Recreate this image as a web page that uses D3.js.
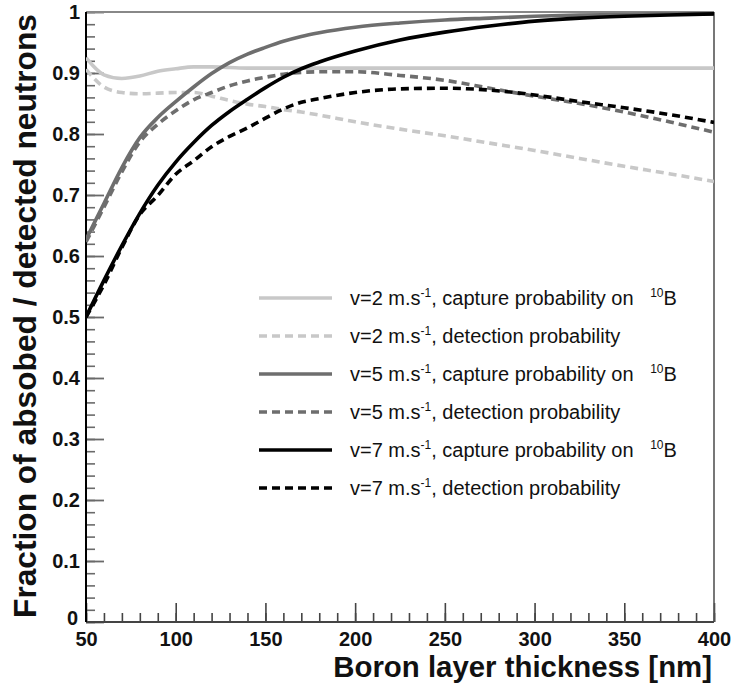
<!DOCTYPE html>
<html><head><meta charset="utf-8">
<script src="https://cdn.jsdelivr.net/npm/d3@7"></script>
<style>
html,body{margin:0;padding:0;background:#fff;}
svg{display:block;}
text{font-family:"Liberation Sans",Arial,Helvetica,sans-serif;}
</style></head>
<body>
<svg id="chart" width="732" height="688"></svg>
<script>
// ---- data ----
const thickness = [50,60,70,80,90,100,110,120,130,140,150,160,170,180,200,225,250,275,300,325,350,375,400];
const v2Capture   = [0.925,0.897,0.891,0.895,0.903,0.907,0.910,0.910,0.909,0.908,0.908,0.908,0.908,0.908,0.908,0.908,0.908,0.908,0.908,0.908,0.908,0.908,0.908];
const v2Detection = [0.906,0.877,0.868,0.866,0.867,0.868,0.868,0.862,0.855,0.849,0.845,0.840,0.836,0.831,0.820,0.808,0.797,0.785,0.773,0.760,0.747,0.735,0.722];
const v5Capture   = [0.627,0.686,0.745,0.794,0.827,0.853,0.877,0.899,0.917,0.931,0.942,0.952,0.960,0.966,0.975,0.982,0.987,0.990,0.993,0.995,0.996,0.997,0.997];
const v5Detection = [0.623,0.680,0.738,0.787,0.816,0.838,0.856,0.868,0.879,0.887,0.893,0.898,0.901,0.902,0.902,0.896,0.888,0.875,0.862,0.850,0.836,0.820,0.803];
const v7Capture   = [0.500,0.560,0.617,0.670,0.716,0.754,0.786,0.814,0.837,0.857,0.876,0.893,0.907,0.918,0.936,0.954,0.967,0.977,0.985,0.990,0.993,0.995,0.997];
const v7Detection = [0.500,0.553,0.614,0.668,0.699,0.734,0.756,0.779,0.796,0.810,0.826,0.841,0.852,0.858,0.868,0.874,0.875,0.872,0.864,0.853,0.843,0.832,0.819];

const seriesNames = ["v2Capture","v2Detection","v5Capture","v5Detection","v7Capture","v7Detection"];
const seriesValues = [v2Capture,v2Detection,v5Capture,v5Detection,v7Capture,v7Detection];
const seriesSpeed = ["2","2","5","5","7","7"];
const seriesKind = ["capture","detection","capture","detection","capture","detection"];
const seriesColor = ["#c8c8c8","#c8c8c8","#6e6e6e","#6e6e6e","#000000","#000000"];

const xMajorTicks = [50,100,150,200,250,300,350,400];
const xMinorTicks = d3.range(50,401,10);
const yMajorTicks = [0,0.1,0.2,0.3,0.4,0.5,0.6,0.7,0.8,0.9,1];
const yMinorTicks = d3.range(0,51).map(i=>i*0.02);

const xTitle = "Boron layer thickness [nm]";
const yTitle = "Fraction of absobed / detected neutrons";

// ---- layout ----
const svg = d3.select("#chart");
const X0=86, X1=714, Y0=622, Y1=12;
const x = d3.scaleLinear().domain([50,400]).range([X0,X1]);
const y = d3.scaleLinear().domain([0,1]).range([Y0,Y1]);

// minor ticks
const yMinorAxis = d3.axisLeft(y).tickValues(yMinorTicks).tickSize(-9).tickFormat("");
svg.append("g").attr("transform",`translate(${X0},0)`).call(yMinorAxis)
  .call(g=>g.select(".domain").remove())
  .call(g=>g.selectAll("line").attr("stroke","#6a6a6a").attr("stroke-width",1.6));
const xMinorAxis = d3.axisBottom(x).tickValues(xMinorTicks).tickSize(-9).tickFormat("");
svg.append("g").attr("transform",`translate(0,${Y0})`).call(xMinorAxis)
  .call(g=>g.select(".domain").remove())
  .call(g=>g.selectAll("line").attr("stroke","#444").attr("stroke-width",1.6));

// major ticks
const yAxis = d3.axisLeft(y).tickValues(yMajorTicks).tickSize(-18).tickPadding(6)
  .tickFormat(d=> d===0?"0":(d===1?"1":d3.format(".1f")(d)));
svg.append("g").attr("transform",`translate(${X0},0)`).call(yAxis)
  .call(g=>g.select(".domain").remove())
  .call(g=>g.selectAll("line").attr("stroke","#6a6a6a").attr("stroke-width",1.8))
  .call(g=>g.selectAll("text").attr("font-size",20).attr("font-weight","bold").attr("fill","#111"))
  .call(g=>g.selectAll(".tick").filter(d=>d===0).select("text").attr("dy","0.12em").attr("dx",-2));
const xAxis = d3.axisBottom(x).tickValues(xMajorTicks).tickSize(-19).tickPadding(10).tickFormat(d3.format("d"));
svg.append("g").attr("transform",`translate(0,${Y0})`).call(xAxis)
  .call(g=>g.select(".domain").remove())
  .call(g=>g.selectAll("line").attr("stroke","#444").attr("stroke-width",1.6))
  .call(g=>g.selectAll("text").attr("font-size",20).attr("font-weight","bold").attr("fill","#111"));

// frame
svg.append("line").attr("x1",X0).attr("x2",X1).attr("y1",Y1).attr("y2",Y1).attr("stroke","#888").attr("stroke-width",2);
svg.append("line").attr("x1",X1).attr("x2",X1).attr("y1",Y1).attr("y2",Y0).attr("stroke","#555").attr("stroke-width",1.6);
svg.append("line").attr("x1",X0).attr("x2",X1).attr("y1",Y0).attr("y2",Y0).attr("stroke","#444").attr("stroke-width",2);
svg.append("line").attr("x1",X0).attr("x2",X0).attr("y1",Y1).attr("y2",Y0).attr("stroke","#000").attr("stroke-width",2);

// curves
const line = d3.line().x((d,i)=>x(thickness[i])).y(d=>y(d)).curve(d3.curveMonotoneX);
svg.append("clipPath").attr("id","pc").append("rect")
  .attr("x",X0).attr("y",Y1-2).attr("width",X1-X0).attr("height",Y0-Y1+2);
const drawOrder = [1,3,5,0,2,4];
drawOrder.forEach(i=>{
  svg.append("path").attr("clip-path","url(#pc)")
    .attr("d",line(seriesValues[i]))
    .attr("fill","none").attr("stroke",seriesColor[i]).attr("stroke-width",3.6)
    .attr("stroke-dasharray",seriesKind[i]==="detection"?"8,5":null);
});

// legend
const legY = [298,336,374,412,450,488];
seriesNames.forEach((n,i)=>{
  const ly = legY[i];
  svg.append("line").attr("x1",259).attr("x2",332).attr("y1",ly).attr("y2",ly)
    .attr("stroke",seriesColor[i]).attr("stroke-width",3.6)
    .attr("stroke-dasharray",seriesKind[i]==="detection"?"8,5":null);
  const t = svg.append("text").attr("x",350).attr("y",ly+7).attr("font-size",20).attr("fill","#111");
  t.append("tspan").text(`v=${seriesSpeed[i]} m.s`);
  t.append("tspan").attr("font-size",12).attr("dy",-8).text("-1");
  if(seriesKind[i]==="capture"){
    t.append("tspan").attr("dy",8).text(", capture probability on ");
    t.append("tspan").attr("font-size",12).attr("dy",-8).attr("dx",11).text("10");
    t.append("tspan").attr("dy",8).text("B");
  } else {
    t.append("tspan").attr("dy",8).text(", detection probability");
  }
});

// axis titles
const xt = svg.append("text").attr("x",712).attr("y",677).attr("text-anchor","end")
  .attr("font-size",28).attr("font-weight","bold").attr("fill","#111").text(xTitle);
const yt = svg.append("text").attr("transform","translate(36,316) rotate(-90)").attr("text-anchor","middle")
  .attr("font-size",30).attr("font-weight","bold").attr("fill","#111").text(yTitle);
function fit(sel, target){ const w = sel.node().getComputedTextLength(); const fs=+sel.attr("font-size"); sel.attr("font-size", fs*target/w); }
fit(xt, 379);
fit(yt, 604);
</script>
</body></html>
